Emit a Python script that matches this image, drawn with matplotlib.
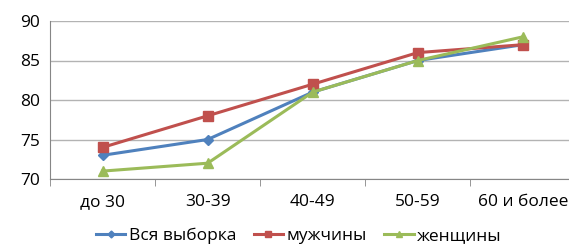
import matplotlib.pyplot as plt
import numpy as np

plt.rcParams['font.family'] = ['Open Sans', 'DejaVu Sans']

categories = ["до 30", "30-39", "40-49", "50-59", "60 и более"]
vsya = [73, 75, 81, 85, 87]
muzh = [74, 78, 82, 86, 87]
zhen = [71, 72, 81, 85, 88]

x = np.arange(len(categories))

fig = plt.figure(figsize=(5.69, 2.46), dpi=100)
ax = fig.add_axes([50/569, 1-179/246, (575.5-50)/569, (179-21)/246])

ax.plot(x, vsya, color="#4F81BD", lw=2.2, marker="D", ms=5, label="Вся выборка")
ax.plot(x, muzh, color="#C0504D", lw=2.2, marker="s", ms=7, label="мужчины")
ax.plot(x, zhen, color="#9BBB59", lw=2.2, marker="^", ms=7, label="женщины")

ax.set_xlim(-0.5, len(categories) - 0.5)
ax.set_ylim(70, 90)
ax.set_yticks([70, 75, 80, 85, 90])
ax.yaxis.grid(True, color="#B3B3B3", lw=1)
ax.set_axisbelow(True)

ax.set_xticks(x)
ax.set_xticklabels(categories)
ax.set_xticks(np.arange(len(categories) + 1) - 0.5, minor=True)
ax.tick_params(axis="x", which="major", length=0, pad=11, labelsize=12.5)
ax.tick_params(axis="x", which="minor", length=5, color="#868686")
ax.tick_params(axis="y", length=0, pad=7, labelsize=12.5)

for s in ["top", "right"]:
    ax.spines[s].set_visible(False)
for s in ["left", "bottom"]:
    ax.spines[s].set_color("#868686")

ax.legend(loc="center", bbox_to_anchor=(299/569, 1-236/246), bbox_transform=fig.transFigure,
          ncol=3, frameon=False, fontsize=12.5, handlelength=1.7, handletextpad=0.2,
          columnspacing=1.0, markerscale=0.7, borderpad=0)

fig.savefig("out.png", dpi=100)
